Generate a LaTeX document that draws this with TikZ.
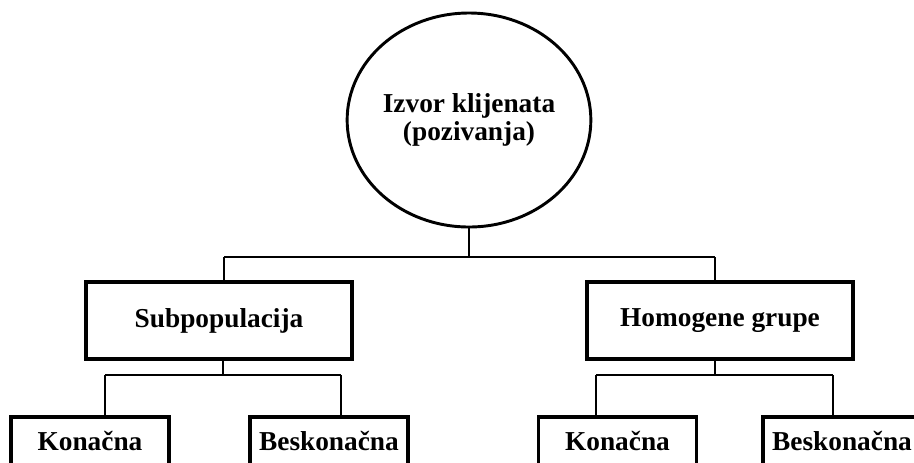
\documentclass[tikz,border=0pt]{standalone}
\usepackage{fontspec}
\setmainfont{Liberation Serif}
\usetikzlibrary{shapes.geometric}

\begin{document}
\begin{tikzpicture}[x=0.75pt, y=-0.75pt,
    every node/.style={font=\fontsize{20.5}{20}\selectfont\bfseries, align=center, inner sep=0pt},
    source/.style={ellipse, draw, line width=2.2pt, minimum width=178.5pt, minimum height=160.5pt},
    group/.style={rectangle, draw, line width=2.5pt, minimum width=199.5pt, minimum height=57.75pt},
    leaf/.style={rectangle, draw, line width=2.5pt, minimum width=118.5pt, minimum height=36pt},
    bar/.style={line width=1.6pt},
    stem/.style={line width=0.8pt}]
  \useasboundingbox (0,0) rectangle (914,462);
  \clip (0,0) rectangle (914,462);

  \node [source] (izvor) at (469,120) {\raisebox{-3pt}{\shortstack{Izvor klijenata\\(pozivanja)}}};
  \node [group] (subpop) at (219,320.5) {Subpopulacija};
  \node [group] (homogene) at (720,320.5) {Homogene grupe};
  \node [leaf] (konL) at (90,441) {Kona\v{c}na};
  \node [leaf] (beskL) at (329,441) {Beskona\v{c}na};
  \node [leaf] (konR) at (617.5,441) {Kona\v{c}na};
  \node [leaf] (beskR) at (842,441) {Beskona\v{c}na};

  % top level
  \coordinate (hub) at (469,257);
  \coordinate (hubL) at (224,257);
  \coordinate (hubR) at (715,257);
  \draw [stem] (izvor.south) -- (hub);
  \draw [bar] (hubL) -- (hubR);
  \draw [stem] (hubL) -- (hubL |- subpop.north);
  \draw [stem] (hubR) -- (hubR |- homogene.north);

  % left branch
  \coordinate (midL) at (223,375);
  \coordinate (barL1) at (105,375);
  \coordinate (barL2) at (341,375);
  \draw [stem] (midL |- subpop.south) -- (midL);
  \draw [bar] (barL1) -- (barL2);
  \draw [stem] (barL1) -- (barL1 |- konL.north);
  \draw [stem] (barL2) -- (barL2 |- beskL.north);

  % right branch
  \coordinate (midR) at (715,375);
  \coordinate (barR1) at (596,375);
  \coordinate (barR2) at (833,375);
  \draw [stem] (midR |- homogene.south) -- (midR);
  \draw [bar] (barR1) -- (barR2);
  \draw [stem] (barR1) -- (barR1 |- konR.north);
  \draw [stem] (barR2) -- (barR2 |- beskR.north);
\end{tikzpicture}
\end{document}
